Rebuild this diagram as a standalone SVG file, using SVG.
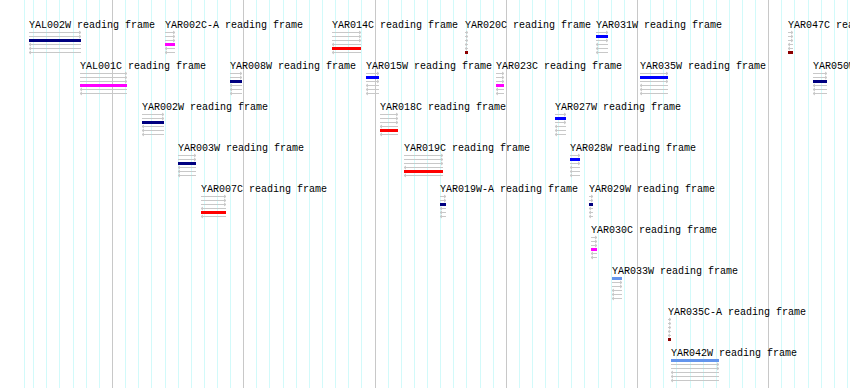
<svg xmlns="http://www.w3.org/2000/svg" width="850" height="388" viewBox="0 0 850 388">
<style>
.bg{fill:#ffffff}
.cy{stroke:#d2fafa;stroke-width:1}
.gr{stroke:#c8c8c8;stroke-width:1}
.fr{fill:none;stroke:#c8c8c8;stroke-width:1}
.lb{font-family:"Liberation Mono","DejaVu Sans Mono",monospace;font-size:10px;fill:#000000}
.navy{fill:#000080}.blue{fill:#0000ff}.mag{fill:#ff00ff}.red{fill:#ff0000}.dred{fill:#8b0000}.cfb{fill:#6495ed}
</style>
<rect class="bg" x="0" y="0" width="850" height="388"/>
<g id="grid">
<path class="cy" d="M24.5 0V388M33.5 0V388M46.5 0V388M59.5 0V388M73.5 0V388M86.5 0V388M99.5 0V388M125.5 0V388M138.5 0V388M151.5 0V388M165.5 0V388M178.5 0V388M191.5 0V388M204.5 0V388M217.5 0V388M230.5 0V388M256.5 0V388M269.5 0V388M283.5 0V388M296.5 0V388M309.5 0V388M322.5 0V388M335.5 0V388M348.5 0V388M361.5 0V388M388.5 0V388M401.5 0V388M414.5 0V388M427.5 0V388M440.5 0V388M453.5 0V388M466.5 0V388M480.5 0V388M493.5 0V388M519.5 0V388M532.5 0V388M545.5 0V388M558.5 0V388M571.5 0V388M584.5 0V388M598.5 0V388M611.5 0V388M624.5 0V388M650.5 0V388M663.5 0V388M676.5 0V388M690.5 0V388M703.5 0V388M716.5 0V388M729.5 0V388M742.5 0V388M755.5 0V388M781.5 0V388M794.5 0V388M808.5 0V388M821.5 0V388M834.5 0V388M847.5 0V388"/>
<path class="gr" d="M112.5 0V388M243.5 0V388M375.5 0V388M506.5 0V388M637.5 0V388M768.5 0V388"/>
</g>
<g id="connectors"></g>

<g id="YAL002W">
<text class="lb" x="29" y="27.5">YAL002W reading frame</text>
<path class="fr" d="M29 32.5H81m-2 -1.5l2 1.5l-2 1.5M29 36.5H81m-2 -1.5l2 1.5l-2 1.5M29 40.5H81m-2 -1.5l2 1.5l-2 1.5M81 44.5H29m2 -1.5l-2 1.5l2 1.5M81 48.5H29m2 -1.5l-2 1.5l2 1.5M81 52.5H29m2 -1.5l-2 1.5l2 1.5"/>
<rect class="navy" x="29" y="39" width="52" height="3"/>
</g>
<g id="YAR002C-A">
<text class="lb" x="165" y="27.5">YAR002C-A reading frame</text>
<path class="fr" d="M165 32.5H175m-2 -1.5l2 1.5l-2 1.5M165 36.5H175m-2 -1.5l2 1.5l-2 1.5M165 40.5H175m-2 -1.5l2 1.5l-2 1.5M175 44.5H165m2 -1.5l-2 1.5l2 1.5M175 48.5H165m2 -1.5l-2 1.5l2 1.5M175 52.5H165m2 -1.5l-2 1.5l2 1.5"/>
<rect class="mag" x="165" y="43" width="10" height="3"/>
</g>
<g id="YAR014C">
<text class="lb" x="332" y="27.5">YAR014C reading frame</text>
<path class="fr" d="M332 32.5H361m-2 -1.5l2 1.5l-2 1.5M332 36.5H361m-2 -1.5l2 1.5l-2 1.5M332 40.5H361m-2 -1.5l2 1.5l-2 1.5M361 44.5H332m2 -1.5l-2 1.5l2 1.5M361 48.5H332m2 -1.5l-2 1.5l2 1.5M361 52.5H332m2 -1.5l-2 1.5l2 1.5"/>
<rect class="red" x="332" y="47" width="29" height="3"/>
</g>
<g id="YAR020C">
<text class="lb" x="465" y="27.5">YAR020C reading frame</text>
<path class="fr" d="M465 32.5H468m-2 -1.5l2 1.5l-2 1.5M465 36.5H468m-2 -1.5l2 1.5l-2 1.5M465 40.5H468m-2 -1.5l2 1.5l-2 1.5M468 44.5H465m2 -1.5l-2 1.5l2 1.5M468 48.5H465m2 -1.5l-2 1.5l2 1.5M468 52.5H465m2 -1.5l-2 1.5l2 1.5"/>
<rect class="dred" x="465" y="51" width="3" height="3"/>
</g>
<g id="YAR031W">
<text class="lb" x="596" y="27.5">YAR031W reading frame</text>
<path class="fr" d="M596 32.5H608m-2 -1.5l2 1.5l-2 1.5M596 36.5H608m-2 -1.5l2 1.5l-2 1.5M596 40.5H608m-2 -1.5l2 1.5l-2 1.5M608 44.5H596m2 -1.5l-2 1.5l2 1.5M608 48.5H596m2 -1.5l-2 1.5l2 1.5M608 52.5H596m2 -1.5l-2 1.5l2 1.5"/>
<rect class="blue" x="596" y="35" width="12" height="3"/>
</g>
<g id="YAR047C">
<text class="lb" x="788" y="27.5">YAR047C reading frame</text>
<path class="fr" d="M788 32.5H793m-2 -1.5l2 1.5l-2 1.5M788 36.5H793m-2 -1.5l2 1.5l-2 1.5M788 40.5H793m-2 -1.5l2 1.5l-2 1.5M793 44.5H788m2 -1.5l-2 1.5l2 1.5M793 48.5H788m2 -1.5l-2 1.5l2 1.5M793 52.5H788m2 -1.5l-2 1.5l2 1.5"/>
<rect class="dred" x="788" y="51" width="5" height="3"/>
</g>

<g id="YAL001C">
<text class="lb" x="80" y="68.5">YAL001C reading frame</text>
<path class="fr" d="M80 73.5H127m-2 -1.5l2 1.5l-2 1.5M80 77.5H127m-2 -1.5l2 1.5l-2 1.5M80 81.5H127m-2 -1.5l2 1.5l-2 1.5M127 85.5H80m2 -1.5l-2 1.5l2 1.5M127 89.5H80m2 -1.5l-2 1.5l2 1.5M127 93.5H80m2 -1.5l-2 1.5l2 1.5"/>
<rect class="mag" x="80" y="84" width="47" height="3"/>
</g>
<g id="YAR008W">
<text class="lb" x="230" y="68.5">YAR008W reading frame</text>
<path class="fr" d="M230 73.5H242m-2 -1.5l2 1.5l-2 1.5M230 77.5H242m-2 -1.5l2 1.5l-2 1.5M230 81.5H242m-2 -1.5l2 1.5l-2 1.5M242 85.5H230m2 -1.5l-2 1.5l2 1.5M242 89.5H230m2 -1.5l-2 1.5l2 1.5M242 93.5H230m2 -1.5l-2 1.5l2 1.5"/>
<rect class="navy" x="230" y="80" width="12" height="3"/>
</g>
<g id="YAR015W">
<text class="lb" x="366" y="68.5">YAR015W reading frame</text>
<path class="fr" d="M366 73.5H379m-2 -1.5l2 1.5l-2 1.5M366 77.5H379m-2 -1.5l2 1.5l-2 1.5M366 81.5H379m-2 -1.5l2 1.5l-2 1.5M379 85.5H366m2 -1.5l-2 1.5l2 1.5M379 89.5H366m2 -1.5l-2 1.5l2 1.5M379 93.5H366m2 -1.5l-2 1.5l2 1.5"/>
<rect class="blue" x="366" y="76" width="13" height="3"/>
</g>
<g id="YAR023C">
<text class="lb" x="496" y="68.5">YAR023C reading frame</text>
<path class="fr" d="M496 73.5H504m-2 -1.5l2 1.5l-2 1.5M496 77.5H504m-2 -1.5l2 1.5l-2 1.5M496 81.5H504m-2 -1.5l2 1.5l-2 1.5M504 85.5H496m2 -1.5l-2 1.5l2 1.5M504 89.5H496m2 -1.5l-2 1.5l2 1.5M504 93.5H496m2 -1.5l-2 1.5l2 1.5"/>
<rect class="mag" x="496" y="84" width="8" height="3"/>
</g>
<g id="YAR035W">
<text class="lb" x="640" y="68.5">YAR035W reading frame</text>
<path class="fr" d="M640 73.5H668m-2 -1.5l2 1.5l-2 1.5M640 77.5H668m-2 -1.5l2 1.5l-2 1.5M640 81.5H668m-2 -1.5l2 1.5l-2 1.5M668 85.5H640m2 -1.5l-2 1.5l2 1.5M668 89.5H640m2 -1.5l-2 1.5l2 1.5M668 93.5H640m2 -1.5l-2 1.5l2 1.5"/>
<rect class="blue" x="640" y="76" width="28" height="3"/>
</g>
<g id="YAR050W">
<text class="lb" x="813" y="68.5">YAR050W reading frame</text>
<path class="fr" d="M813 73.5H827m-2 -1.5l2 1.5l-2 1.5M813 77.5H827m-2 -1.5l2 1.5l-2 1.5M813 81.5H827m-2 -1.5l2 1.5l-2 1.5M827 85.5H813m2 -1.5l-2 1.5l2 1.5M827 89.5H813m2 -1.5l-2 1.5l2 1.5M827 93.5H813m2 -1.5l-2 1.5l2 1.5"/>
<rect class="navy" x="813" y="80" width="14" height="3"/>
</g>

<g id="YAR002W">
<text class="lb" x="142" y="109.5">YAR002W reading frame</text>
<path class="fr" d="M142 114.5H164m-2 -1.5l2 1.5l-2 1.5M142 118.5H164m-2 -1.5l2 1.5l-2 1.5M142 122.5H164m-2 -1.5l2 1.5l-2 1.5M164 126.5H142m2 -1.5l-2 1.5l2 1.5M164 130.5H142m2 -1.5l-2 1.5l2 1.5M164 134.5H142m2 -1.5l-2 1.5l2 1.5"/>
<rect class="navy" x="142" y="121" width="22" height="3"/>
</g>
<g id="YAR018C">
<text class="lb" x="380" y="109.5">YAR018C reading frame</text>
<path class="fr" d="M380 114.5H398m-2 -1.5l2 1.5l-2 1.5M380 118.5H398m-2 -1.5l2 1.5l-2 1.5M380 122.5H398m-2 -1.5l2 1.5l-2 1.5M398 126.5H380m2 -1.5l-2 1.5l2 1.5M398 130.5H380m2 -1.5l-2 1.5l2 1.5M398 134.5H380m2 -1.5l-2 1.5l2 1.5"/>
<rect class="red" x="380" y="129" width="18" height="3"/>
</g>
<g id="YAR027W">
<text class="lb" x="555" y="109.5">YAR027W reading frame</text>
<path class="fr" d="M555 114.5H566m-2 -1.5l2 1.5l-2 1.5M555 118.5H566m-2 -1.5l2 1.5l-2 1.5M555 122.5H566m-2 -1.5l2 1.5l-2 1.5M566 126.5H555m2 -1.5l-2 1.5l2 1.5M566 130.5H555m2 -1.5l-2 1.5l2 1.5M566 134.5H555m2 -1.5l-2 1.5l2 1.5"/>
<rect class="blue" x="555" y="117" width="11" height="3"/>
</g>

<g id="YAR003W">
<text class="lb" x="178" y="150.5">YAR003W reading frame</text>
<path class="fr" d="M178 155.5H196m-2 -1.5l2 1.5l-2 1.5M178 159.5H196m-2 -1.5l2 1.5l-2 1.5M178 163.5H196m-2 -1.5l2 1.5l-2 1.5M196 167.5H178m2 -1.5l-2 1.5l2 1.5M196 171.5H178m2 -1.5l-2 1.5l2 1.5M196 175.5H178m2 -1.5l-2 1.5l2 1.5"/>
<rect class="navy" x="178" y="162" width="18" height="3"/>
</g>
<g id="YAR019C">
<text class="lb" x="404" y="150.5">YAR019C reading frame</text>
<path class="fr" d="M404 155.5H443m-2 -1.5l2 1.5l-2 1.5M404 159.5H443m-2 -1.5l2 1.5l-2 1.5M404 163.5H443m-2 -1.5l2 1.5l-2 1.5M443 167.5H404m2 -1.5l-2 1.5l2 1.5M443 171.5H404m2 -1.5l-2 1.5l2 1.5M443 175.5H404m2 -1.5l-2 1.5l2 1.5"/>
<rect class="red" x="404" y="170" width="39" height="3"/>
</g>
<g id="YAR028W">
<text class="lb" x="570" y="150.5">YAR028W reading frame</text>
<path class="fr" d="M570 155.5H580m-2 -1.5l2 1.5l-2 1.5M570 159.5H580m-2 -1.5l2 1.5l-2 1.5M570 163.5H580m-2 -1.5l2 1.5l-2 1.5M580 167.5H570m2 -1.5l-2 1.5l2 1.5M580 171.5H570m2 -1.5l-2 1.5l2 1.5M580 175.5H570m2 -1.5l-2 1.5l2 1.5"/>
<rect class="blue" x="570" y="158" width="10" height="3"/>
</g>

<g id="YAR007C">
<text class="lb" x="201" y="191.5">YAR007C reading frame</text>
<path class="fr" d="M201 196.5H226m-2 -1.5l2 1.5l-2 1.5M201 200.5H226m-2 -1.5l2 1.5l-2 1.5M201 204.5H226m-2 -1.5l2 1.5l-2 1.5M226 208.5H201m2 -1.5l-2 1.5l2 1.5M226 212.5H201m2 -1.5l-2 1.5l2 1.5M226 216.5H201m2 -1.5l-2 1.5l2 1.5"/>
<rect class="red" x="201" y="211" width="25" height="3"/>
</g>
<g id="YAR019W-A">
<text class="lb" x="440" y="191.5">YAR019W-A reading frame</text>
<path class="fr" d="M440 196.5H446m-2 -1.5l2 1.5l-2 1.5M440 200.5H446m-2 -1.5l2 1.5l-2 1.5M440 204.5H446m-2 -1.5l2 1.5l-2 1.5M446 208.5H440m2 -1.5l-2 1.5l2 1.5M446 212.5H440m2 -1.5l-2 1.5l2 1.5M446 216.5H440m2 -1.5l-2 1.5l2 1.5"/>
<rect class="navy" x="440" y="203" width="6" height="3"/>
</g>
<g id="YAR029W">
<text class="lb" x="589" y="191.5">YAR029W reading frame</text>
<path class="fr" d="M589 196.5H593m-2 -1.5l2 1.5l-2 1.5M589 200.5H593m-2 -1.5l2 1.5l-2 1.5M589 204.5H593m-2 -1.5l2 1.5l-2 1.5M593 208.5H589m2 -1.5l-2 1.5l2 1.5M593 212.5H589m2 -1.5l-2 1.5l2 1.5M593 216.5H589m2 -1.5l-2 1.5l2 1.5"/>
<rect class="navy" x="589" y="203" width="4" height="3"/>
</g>

<g id="YAR030C">
<text class="lb" x="591" y="232.5">YAR030C reading frame</text>
<path class="fr" d="M591 237.5H597m-2 -1.5l2 1.5l-2 1.5M591 241.5H597m-2 -1.5l2 1.5l-2 1.5M591 245.5H597m-2 -1.5l2 1.5l-2 1.5M597 249.5H591m2 -1.5l-2 1.5l2 1.5M597 253.5H591m2 -1.5l-2 1.5l2 1.5M597 257.5H591m2 -1.5l-2 1.5l2 1.5"/>
<rect class="mag" x="591" y="248" width="6" height="3"/>
</g>

<g id="YAR033W">
<text class="lb" x="612" y="273.5">YAR033W reading frame</text>
<path class="fr" d="M612 278.5H622m-2 -1.5l2 1.5l-2 1.5M612 282.5H622m-2 -1.5l2 1.5l-2 1.5M612 286.5H622m-2 -1.5l2 1.5l-2 1.5M622 290.5H612m2 -1.5l-2 1.5l2 1.5M622 294.5H612m2 -1.5l-2 1.5l2 1.5M622 298.5H612m2 -1.5l-2 1.5l2 1.5"/>
<rect class="cfb" x="612" y="277" width="10" height="3"/>
</g>

<g id="YAR035C-A">
<text class="lb" x="668" y="314.5">YAR035C-A reading frame</text>
<path class="fr" d="M668 319.5H671m-2 -1.5l2 1.5l-2 1.5M668 323.5H671m-2 -1.5l2 1.5l-2 1.5M668 327.5H671m-2 -1.5l2 1.5l-2 1.5M671 331.5H668m2 -1.5l-2 1.5l2 1.5M671 335.5H668m2 -1.5l-2 1.5l2 1.5M671 339.5H668m2 -1.5l-2 1.5l2 1.5"/>
<rect class="dred" x="668" y="338" width="3" height="3"/>
</g>

<g id="YAR042W">
<text class="lb" x="671" y="355.5">YAR042W reading frame</text>
<path class="fr" d="M671 360.5H719m-2 -1.5l2 1.5l-2 1.5M671 364.5H719m-2 -1.5l2 1.5l-2 1.5M671 368.5H719m-2 -1.5l2 1.5l-2 1.5M719 372.5H671m2 -1.5l-2 1.5l2 1.5M719 376.5H671m2 -1.5l-2 1.5l2 1.5M719 380.5H671m2 -1.5l-2 1.5l2 1.5"/>
<rect class="cfb" x="671" y="359" width="48" height="3"/>
</g>
</svg>
